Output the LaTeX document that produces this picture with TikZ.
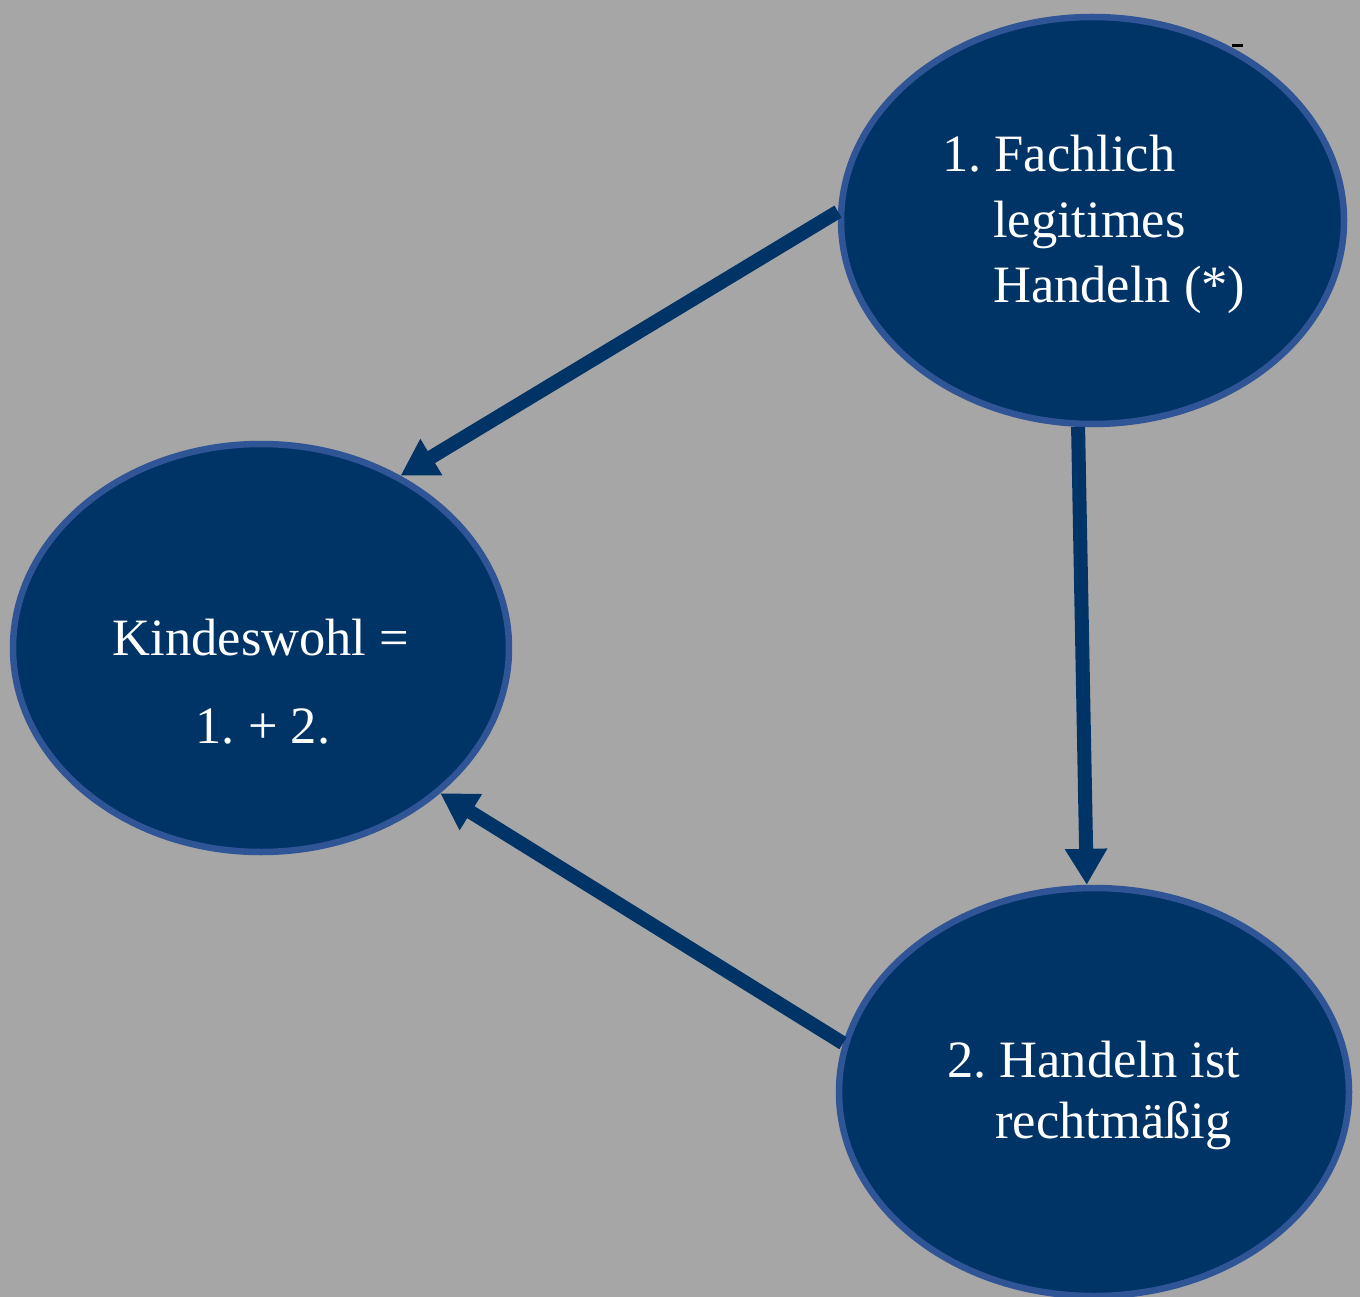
\documentclass[tikz,border=0pt]{standalone}
\usepackage{fontspec}
\setmainfont{Liberation Serif}
\usetikzlibrary{arrows.meta,shapes.geometric}
\definecolor{bg}{RGB}{166,166,166}
\definecolor{navy}{RGB}{0,51,102}
\definecolor{rim}{RGB}{47,85,151}
\frenchspacing
\tikzset{
  blob/.style={ellipse, fill=navy, draw=rim, line width=6.5pt, inner sep=0pt},
  lbl/.style={text=white, inner sep=0pt, font=\fontsize{52.5}{64}\selectfont},
  conn/.style={draw=navy, line width=14pt, -{Triangle[length=36pt,width=40pt]}},
}
\begin{document}
\begin{tikzpicture}[x=1pt,y=-1pt]
\fill[bg] (0,0) rectangle (1360,1297);
\useasboundingbox (0,0) rectangle (1360,1297);
\node[blob, minimum width=503pt, minimum height=407pt] (top) at (1092.5,220.5) {};
\node[blob, minimum width=496pt, minimum height=408pt] (left) at (261,648) {};
\node[blob, minimum width=510pt, minimum height=408pt] (bot) at (1094,1092) {};
\fill[black] (1232,44.5) rectangle (1243,47) coordinate (mark);
\node[lbl, anchor=base west] (t1) at (942,172) {1. Fachlich};
\node[lbl, anchor=base west] (t2) at (993,238) {legitimes};
\node[lbl, anchor=base west] (t3) at (993,303) {Handeln (*)};
\node[lbl, anchor=base] (l1) at (261,655) {Kindeswohl =};
\node[lbl, anchor=base] (l2) at (263,743) {1. + 2.};
\node[lbl, anchor=base west] (b1) at (947,1077) {2. Handeln ist};
\node[lbl, anchor=base west] (b2) at (995,1138) {rechtmäßig};
\draw[conn] (top.178.4) -- (left.51.4);
\draw[conn] (top.266) -- (bot.92.6);
\draw[conn] (bot.169.3) -- (left.-39.7);
\end{tikzpicture}
\end{document}
